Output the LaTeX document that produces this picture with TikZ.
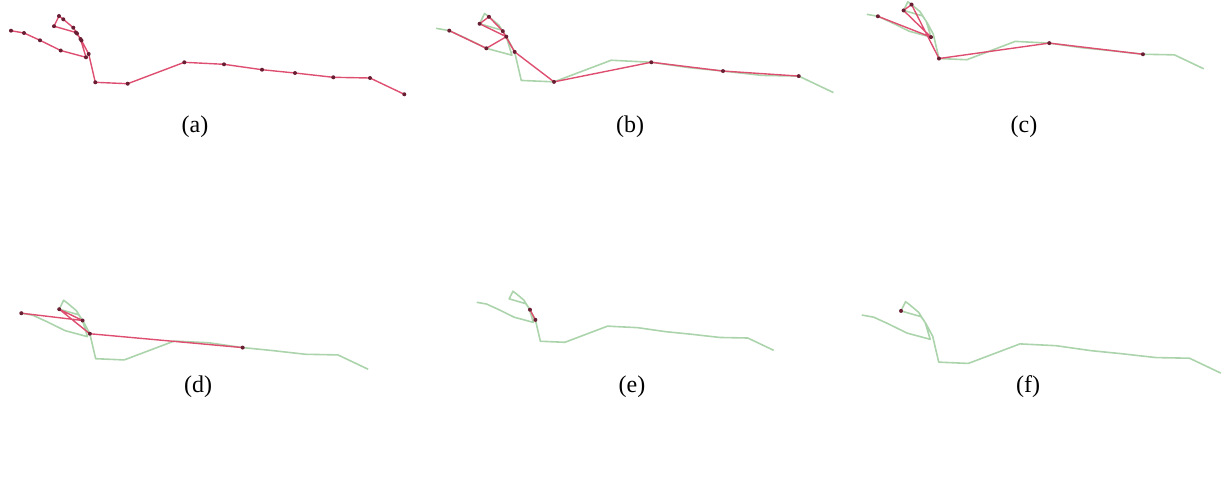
\documentclass[tikz,border=0pt]{standalone}
\usepackage{fontspec}
\setmainfont{Liberation Serif}
\definecolor{gtgreen}{RGB}{172,212,172}
\definecolor{predred}{RGB}{222,78,112}
\definecolor{dotdark}{RGB}{105,30,52}
\newcommand{\trackpoints}{%
\coordinate (p1)  at (11,30.7);
\coordinate (p2)  at (24,33);
\coordinate (p3)  at (40,40.3);
\coordinate (p4)  at (60.7,50.5);
\coordinate (p5)  at (86,57.3);
\coordinate (p6)  at (80.5,39);
\coordinate (p7)  at (76,32.5);
\coordinate (p8)  at (54,26.2);
\coordinate (p9)  at (59,16);
\coordinate (p10) at (63.3,19.3);
\coordinate (p11) at (73.3,27.7);
\coordinate (p12) at (77,33.5);
\coordinate (p13) at (81.5,40.5);
\coordinate (p14) at (88.7,54);
\coordinate (p15) at (95.3,82.3);
\coordinate (p16) at (127.7,83.7);
\coordinate (p17) at (184.3,62.3);
\coordinate (p18) at (224,64.3);
\coordinate (p19) at (262,69.7);
\coordinate (p20) at (295,73);
\coordinate (p21) at (333.3,77.3);
\coordinate (p22) at (370,78);
\coordinate (p23) at (404.3,94.3);
}
\tikzset{
  gtpath/.style={gtgreen, line width=0.8pt, line join=round},
  predpath/.style={predred, line width=0.7pt, line join=round},
  keydot/.style={circle, fill=dotdark, inner sep=0pt, minimum size=2pt},
  panellabel/.style={font=\fontsize{12}{14}\selectfont}
}

\begin{document}
\begin{tikzpicture}[x=0.5pt,y=-0.5pt]
\useasboundingbox (0,0) rectangle (1224,494);

% (a) all points
\begin{scope}
\trackpoints
\draw[predpath] (p1) \foreach \i in {2,...,23}{-- (p\i)};
\foreach \i in {1,...,23} \node[keydot] at (p\i) {};
\end{scope}

% (b)
\begin{scope}[shift={(425,-2.7)},scale=1.01]
\trackpoints
\draw[gtpath] (p1) \foreach \i in {2,...,23}{-- (p\i)};
\draw[predpath] (p2) \foreach \i in {4,6,...,22}{-- (p\i)};
\foreach \i in {2,4,...,22} \node[keydot] at (p\i) {};
\end{scope}

% (c)
\begin{scope}[shift={(857.3,-12)},scale=0.857]
\trackpoints
\draw[gtpath] (p1) \foreach \i in {2,...,23}{-- (p\i)};
\draw[predpath] (p2) \foreach \i in {5,8,10,15,18,21}{-- (p\i)};
\foreach \i in {2,5,8,10,15,18,21} \node[keydot] at (p\i) {};
\end{scope}

% (d)
\begin{scope}[shift={(11.6,286.1)},scale=0.882]
\trackpoints
\draw[gtpath] (p1) \foreach \i in {2,...,23}{-- (p\i)};
\draw[predpath] (p1) \foreach \i in {6,8,14,19}{-- (p\i)};
\foreach \i in {1,6,8,14,19} \node[keydot] at (p\i) {};
\end{scope}

% (e)
\begin{scope}[shift={(468.4,279.1)},scale=0.755]
\trackpoints
\draw[gtpath] (p1) \foreach \i in {2,...,23}{-- (p\i)};
\draw[predpath] (p13) -- (p14);
\foreach \i in {13,14} \node[keydot] at (p\i) {};
\end{scope}

% (f)
\begin{scope}[shift={(851.7,287)},scale=0.913]
\trackpoints
\draw[gtpath] (p1) \foreach \i in {2,...,23}{-- (p\i)};
\node[keydot] at (p8) {};
\end{scope}

\node[panellabel] (capa) at (195,127) {(a)};
\node[panellabel] (capb) at (630,127) {(b)};
\node[panellabel] (capc) at (1024,127) {(c)};
\node[panellabel] (capd) at (198,387) {(d)};
\node[panellabel] (cape) at (632,387) {(e)};
\node[panellabel] (capf) at (1028,387) {(f)};
\end{tikzpicture}
\end{document}
